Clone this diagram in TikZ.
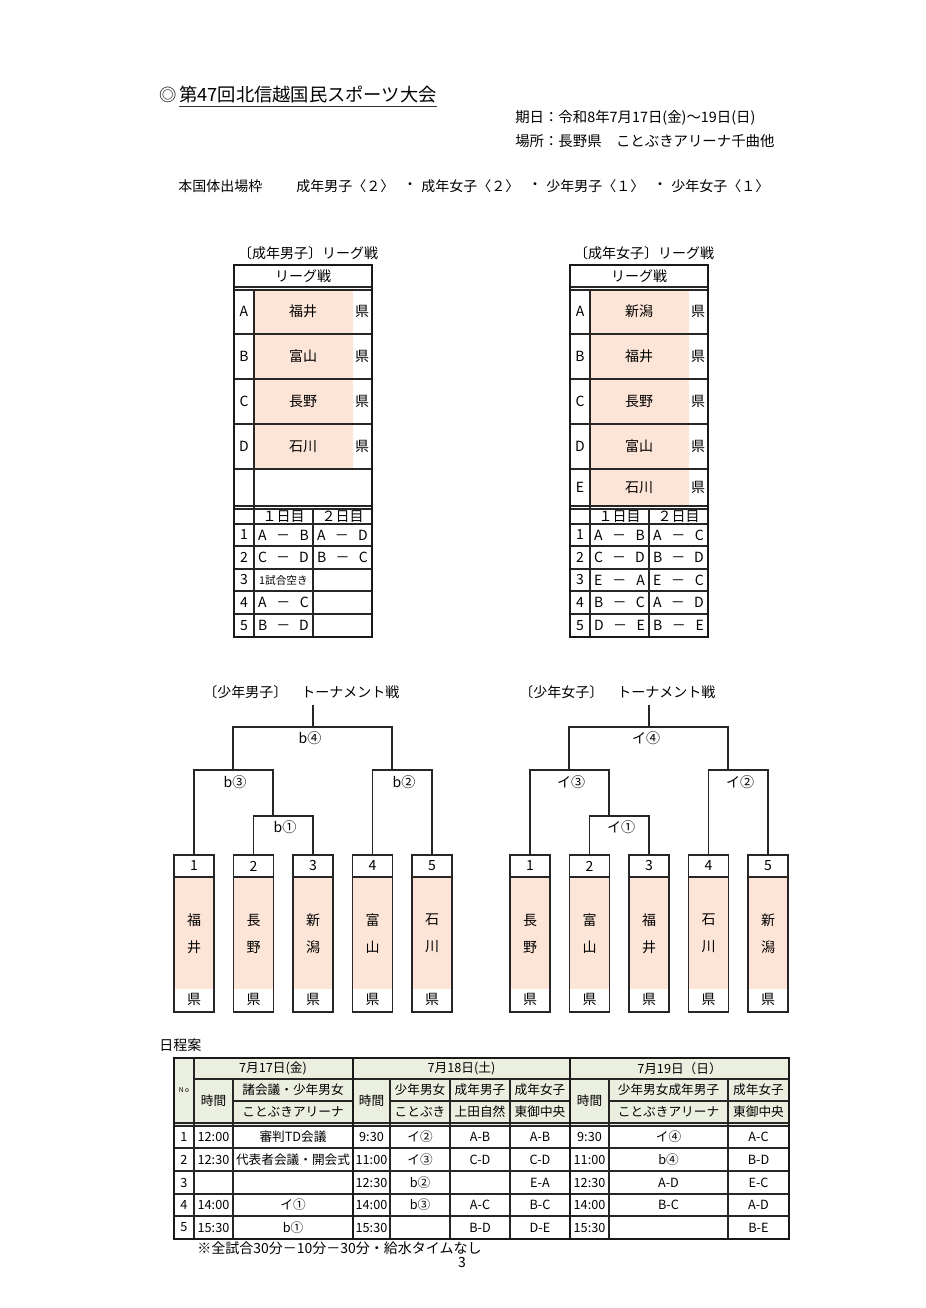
\documentclass[tikz,border=0pt]{standalone}
\usepackage{fontspec}
\setmainfont{Noto Sans CJK JP}
\definecolor{pinkf}{RGB}{252,228,214}
\definecolor{hdrg}{RGB}{235,239,224}
\newcommand\fsz[1]{\fontsize{#1}{#1}\selectfont}
\newcommand\mt[2]{\makebox[38pt]{#1\hfill－\hfill#2}}
\tikzset{
  t/.style={inner sep=0pt,font=\fsz{10.5}},
  st/.style={inner sep=0pt,font=\fsz{9.5}},
  ln/.style={line width=0.9pt,draw=black!85},
  thk/.style={line width=1.8pt,draw=black!90},
  tbox/.style={draw=black!85,line width=0.9pt,minimum width=30pt,minimum height=117.75pt,inner sep=0pt},
}
% league table: #1 prefix, #2 x offset, #3 pink bottom, #4 caption, #5 rows, #6 matches
\newcommand\leaguetab[6]{%
\begin{scope}[shift={(#2,0)}]
\node[t] (#1cap) at (74,253) {#4};
\fill[pinkf] (20,290) rectangle (119,#3);
\draw[ln] (0,287)--(138,287) (0,290)--(138,290);
\foreach \y in {334,379,424,469} \draw[ln] (0,\y)--(138,\y);
\draw[ln] (0,506)--(138,506) (0,509)--(138,509);
\draw[ln] (20,290)--(20,637) (79,509)--(79,637);
\foreach \y in {524,546,569,591,614} \draw[ln] (0,\y)--(138,\y);
\draw[thk] (0,265) rectangle (138,637);
\node[t] (#1hd) at (69,276.5) {リーグ戦};
\foreach \yy/\ll/\nn [count=\k] in {#5} {
  \node[t] (#1L\k) at (10,\yy) {\ll};
  \node[t] (#1N\k) at (69,\yy) {\nn};
  \node[t] (#1K\k) at (128,\yy) {県};
}
\node[t] (#1d1) at (49.5,516.5) {１日目};
\node[t] (#1d2) at (108.5,516.5) {２日目};
\foreach \yy/\ma/\mb [count=\k] in {#6} {
  \node[t] (#1R\k) at (10,\yy) {\k};
  \node[t] (#1a\k) at (49.5,\yy) {\ma};
  \node[t] (#1b\k) at (108.5,\yy) {\mb};
}
\end{scope}}
% tournament: #1 prefix, #2 offset, #3 caption x, #4 caption, #5 label, #6 names
\newcommand\tourney[6]{%
\begin{scope}[shift={(#2,0)}]
\node[t,anchor=west] (#1cap) at (#3,692) {#4};
\foreach \cx/\pa/\pb [count=\k] in {#6} {
  \fill[pinkf] (\cx-20,877) rectangle (\cx+20,989);
  \draw[ln] (\cx-20,877) -- (\cx+20,877);
  \node[tbox] (#1B\k) at (\cx,933.5) {};
  \node[t] (#1n\k) at (\cx,866) {\k};
  \node[t] (#1p\k) at (\cx,920) {\pa};
  \node[t] (#1q\k) at (\cx,947) {\pb};
  \node[t] (#1k\k) at (\cx,999.5) {県};
}
\coordinate (#1top) at (313,705);
\coordinate (#1j4) at (313,727);
\coordinate (#1j3) at (233,770);
\coordinate (#1j2) at (392,770);
\coordinate (#1j1) at (273,816);
\draw[ln] (#1B2.north) |- (#1j1) -| (#1B3.north);
\draw[ln] (#1B1.north) |- (#1j3) -| (#1j1);
\draw[ln] (#1B4.north) |- (#1j2) -| (#1B5.north);
\draw[ln] (#1j3) |- (#1j4) -| (#1j2);
\draw[ln] (#1j4) -- (#1top);
\node[t] (#1m4) at (310,738) {#5④};
\node[t] (#1m3) at (235,782) {#5③};
\node[t] (#1m2) at (404,782) {#5②};
\node[t] (#1m1) at (285,827) {#5①};
\end{scope}}
\begin{document}
\begin{tikzpicture}[x=0.75pt,y=-0.75pt]
\useasboundingbox (0,0) rectangle (925,1308);
\fill[white] (0,0) rectangle (925,1308);
% heading
\node[t,anchor=west,font=\fsz{13}] (mark) at (159,95) {◎};
\node[t,anchor=west,font=\fsz{13.7}] (title) at (179,95) {第47回北信越国民スポーツ大会};
\draw[line width=0.8pt,black!80] ([yshift=-2pt]title.south west) -- ([yshift=-2pt]title.south east);
\node[t,anchor=west,font=\fsz{10.8}] (date) at (515,118) {期日：令和8年7月17日(金)〜19日(日)};
\node[t,anchor=west,font=\fsz{10.8}] (place) at (515,141) {場所：長野県　ことぶきアリーナ千曲他};
\node[t,anchor=west] (quota) at (178,186) {本国体出場枠};
\node[t,anchor=west] (q1) at (296,186) {成年男子〈２〉};
\node[t] (qd1) at (410,186) {・};
\node[t,anchor=west] (q2) at (421,186) {成年女子〈２〉};
\node[t] (qd2) at (535,186) {・};
\node[t,anchor=west] (q3) at (546,186) {少年男子〈１〉};
\node[t] (qd3) at (660,186) {・};
\node[t,anchor=west] (q4) at (671,186) {少年女子〈１〉};
% league tables
\leaguetab{m}{234}{469}{〔成年男子〕リーグ戦}
  {311.5/A/福井, 356.5/B/富山, 401.5/C/長野, 446.5/D/石川}
  {535/\mt{A}{B}/\mt{A}{D}, 557.5/\mt{C}{D}/\mt{B}{C}, 580/{\fsz{8}1試合空き}/, 602.5/\mt{A}{C}/, 625.5/\mt{B}{D}/}
\leaguetab{f}{570}{506}{〔成年女子〕リーグ戦}
  {311.5/A/新潟, 356.5/B/福井, 401.5/C/長野, 446.5/D/富山, 487.5/E/石川}
  {535/\mt{A}{B}/\mt{A}{C}, 557.5/\mt{C}{D}/\mt{B}{D}, 580/\mt{E}{A}/\mt{E}{C}, 602.5/\mt{B}{C}/\mt{A}{D}, 625.5/\mt{D}{E}/\mt{B}{E}}
% tournaments
\tourney{tb}{0}{203}{〔少年男子〕　トーナメント戦}{b}
  {194/福/井, 253.5/長/野, 313/新/潟, 372.5/富/山, 432/石/川}
\tourney{tg}{336}{183}{〔少年女子〕　トーナメント戦}{イ}
  {194/長/野, 253.5/富/山, 313/福/井, 372.5/石/川, 432/新/潟}
% schedule
\node[t,anchor=west] (sched) at (159,1045) {日程案};
\fill[hdrg] (174,1058) rectangle (789,1125);
\draw[ln] (194,1079) -- (789,1079);
\draw[ln] (233,1101)--(353,1101) (390,1101)--(570,1101) (609,1101)--(789,1101);
\draw[ln] (174,1123)--(789,1123) (174,1126)--(789,1126);
\foreach \y in {1148,1171,1194,1216} \draw[ln] (174,\y)--(789,\y);
\draw[ln] (194,1058)--(194,1239);
\foreach \x in {233,390,450,510,609,728} \draw[ln] (\x,1079)--(\x,1239);
\draw[thk] (353,1058)--(353,1239) (570,1058)--(570,1239);
\draw[thk] (174,1058) rectangle (789,1239);
\node[st] (h17) at (273,1068.5) {7月17日(金)};
\node[st] (h18) at (461.5,1068.5) {7月18日(土)};
\node[st] (h19) at (679.5,1068.5) {7月19日（日）};
\node[inner sep=0pt,font=\fsz{5}] (hno) at (184,1090) {N o};
\node[st] (ht1) at (213.5,1101) {時間};
\node[st] (ht2) at (371.5,1101) {時間};
\node[st] (ht3) at (589.5,1101) {時間};
\foreach \xx/\va/\vb [count=\k] in {293/諸会議・少年男女/ことぶきアリーナ, 420/少年男女/ことぶき, 480/成年男子/上田自然, 540/成年女子/東御中央, 668.5/少年男女成年男子/ことぶきアリーナ, 758.5/成年女子/東御中央} {
  \node[st] (hu\k) at (\xx,1090) {\va};
  \node[st] (hl\k) at (\xx,1112) {\vb};
}
\foreach \yy/\va/\vb/\vc/\vd/\ve/\vf/\vg/\vh/\vi/\vj [count=\k] in {
  1137/1/12:00/審判TD会議/9:30/イ②/A-B/A-B/9:30/イ④/A-C,
  1159.5/2/12:30/代表者会議・開会式/11:00/イ③/C-D/C-D/11:00/b④/B-D,
  1182.5/3///12:30/b②//E-A/12:30/A-D/E-C,
  1205/4/14:00/イ①/14:00/b③/A-C/B-C/14:00/B-C/A-D,
  1227.5/5/15:30/b①/15:30//B-D/D-E/15:30//B-E} {
  \foreach \xx/\vv [count=\m] in {184/\va, 213.5/\vb, 293/\vc, 371.5/\vd, 420/\ve, 480/\vf, 540/\vg, 589.5/\vh, 668.5/\vi, 758.5/\vj}
    \node[st] (s\k-\m) at (\xx,\yy) {\vv};
}
\node[t,anchor=west] (note) at (197,1248) {※全試合30分－10分－30分・給水タイムなし};
\node[t] (page) at (462,1262) {3};
\end{tikzpicture}
\end{document}
